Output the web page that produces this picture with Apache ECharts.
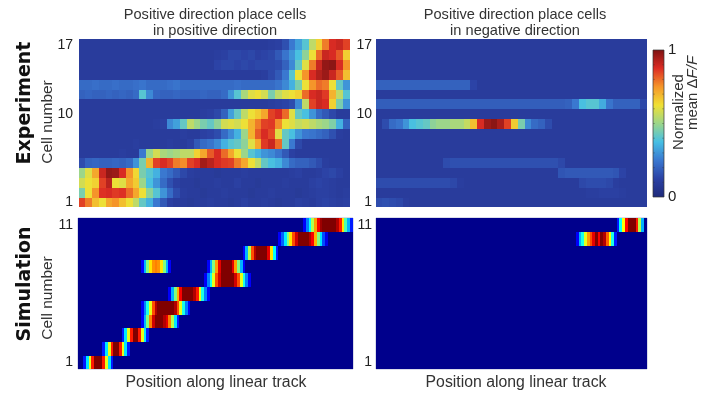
<!DOCTYPE html>
<html>
<head>
<meta charset="utf-8">
<script src="https://cdn.jsdelivr.net/npm/echarts@6/dist/echarts.min.js"></script>
<style>
  html, body { margin: 0; padding: 0; background: #ffffff; }
  #chart { width: 704px; height: 394px; }
</style>
</head>
<body>
<div id="chart"></div>
<script>
// ---- Experiment: mean dF/F per cell (rows 1..17, bottom to top) over 40 position bins, in percent ----
const expPositiveDir = [
  [85,78,68,62,72,75,68,62,55,42,35,25,18,12,10,10,9,10,10,11,10,10,9,10,12,10,10,11,10,9,10,10,12,11,10,12,13,12,11,12],
  [45,62,75,87,88,86,87,80,72,62,48,40,30,22,15,11,10,10,9,10,10,11,10,10,10,9,10,10,11,10,10,10,9,10,11,12,12,11,10,11],
  [58,62,65,85,92,62,60,72,66,50,38,30,22,16,12,10,10,9,10,10,11,10,10,12,10,10,9,10,10,10,11,10,10,10,12,13,12,11,10,10],
  [50,60,72,90,97,96,88,75,64,45,40,35,25,22,18,14,11,10,10,10,9,10,10,10,11,10,10,10,10,10,10,11,12,10,10,11,13,14,12,10],
  [15,20,21,20,20,21,20,22,30,45,70,85,88,85,78,76,85,88,95,92,88,86,85,78,72,62,55,42,38,35,28,22,20,20,18,15,11,10,10,10],
  [10,10,10,10,10,10,11,10,10,25,50,58,52,50,52,55,55,65,72,82,88,80,72,62,50,40,35,30,28,24,18,12,10,10,10,10,10,10,10,10],
  [10,10,10,10,10,10,10,10,11,10,10,10,10,11,10,10,12,18,22,24,28,35,40,42,48,60,72,86,90,80,42,25,14,10,10,10,10,10,10,10],
  [10,10,10,10,10,10,10,10,10,10,10,10,10,10,10,11,10,10,12,13,15,22,28,35,50,70,82,88,84,60,42,38,30,25,24,22,20,16,11,10],
  [10,10,10,10,10,10,10,10,10,10,10,11,12,28,32,42,55,50,45,42,48,58,60,58,62,70,78,85,86,76,62,60,56,58,55,52,50,46,35,20],
  [10,10,10,10,10,10,10,10,10,10,10,10,10,10,10,10,10,10,11,12,14,20,32,42,55,62,66,72,85,88,80,60,42,38,30,22,18,14,10,10],
  [10,10,10,10,10,10,10,10,10,10,10,10,10,10,10,10,10,10,10,10,10,10,10,10,10,10,10,10,11,12,13,15,28,55,85,90,88,65,45,30],
  [20,21,20,20,21,20,21,20,22,40,28,21,20,20,21,20,20,20,21,20,20,22,30,40,52,60,62,58,45,55,60,62,65,80,88,90,86,70,55,40],
  [22,22,23,22,22,23,22,22,23,24,22,22,22,23,24,22,22,22,22,22,22,22,22,23,22,22,22,22,22,24,28,35,45,62,75,80,78,62,42,30],
  [10,10,10,10,10,10,10,10,10,10,10,10,10,10,10,10,10,10,10,10,10,10,10,10,10,10,10,11,14,18,25,40,62,75,88,93,96,90,82,68],
  [10,10,10,10,10,10,10,10,10,10,10,10,10,10,10,10,10,10,10,10,13,14,14,13,14,13,14,14,14,15,20,28,42,60,78,90,97,98,88,75],
  [10,10,10,10,10,10,10,10,10,10,10,10,10,10,10,10,10,10,10,10,11,12,14,14,13,14,12,13,14,18,24,30,38,48,62,80,90,88,82,65],
  [10,10,10,10,10,10,10,10,10,10,10,10,10,10,10,10,10,10,10,10,10,10,10,10,10,10,10,10,11,12,16,25,32,40,55,65,78,88,90,85]
];

const expNegativeDir = [
  [15,16,15,14,11,10,10,10,10,10,10,10,10,10,10,10,10,10,10,10,10,10,10,10,10,10,10,10,10,10,10,10,10,10,10,10,10,10,10,10],
  [10,10,10,10,10,10,10,10,10,10,10,10,10,10,10,10,10,10,10,10,10,10,10,10,10,10,10,10,10,10,10,11,11,12,12,12,11,10,10,10],
  [15,15,15,15,15,15,15,15,15,15,15,14,11,10,10,10,10,10,10,10,10,10,10,10,10,10,10,10,10,10,14,15,15,15,14,11,10,10,10,10],
  [10,10,10,10,10,10,10,10,10,10,10,10,10,10,10,10,10,10,10,10,10,10,10,10,10,10,10,17,18,18,18,18,18,18,18,17,13,10,10,10],
  [10,10,10,10,10,10,10,10,10,10,15,16,16,16,16,16,16,16,16,16,16,16,16,16,16,16,16,14,10,10,10,10,10,10,10,10,10,10,10,10],
  [10,10,10,10,10,10,10,10,10,10,10,10,10,10,10,10,10,10,10,10,10,10,10,10,10,10,10,10,10,10,10,10,10,10,10,10,10,10,10,10],
  [10,10,10,10,10,10,10,10,10,10,10,10,10,10,10,10,10,10,10,10,10,10,10,10,10,10,10,10,10,10,10,10,10,10,10,10,10,10,10,10],
  [10,10,10,10,10,10,10,10,10,10,10,10,10,10,10,10,10,10,10,10,10,10,10,10,10,10,10,10,10,10,10,10,10,10,10,10,10,10,10,10],
  [10,15,22,24,30,38,40,42,48,50,50,52,52,56,68,88,96,98,94,85,66,45,28,22,20,15,10,10,10,10,10,10,10,10,10,10,10,10,10,10],
  [10,10,10,10,10,10,10,10,10,10,10,10,10,10,10,10,10,10,10,10,10,10,10,10,10,10,10,10,10,10,10,10,10,10,10,10,10,10,10,10],
  [19,19,19,19,19,19,19,19,19,19,19,19,19,19,19,19,19,19,19,19,19,19,19,19,19,19,19,19,20,25,38,40,40,34,24,20,20,20,20,14],
  [10,10,10,10,10,10,10,10,10,10,10,10,10,10,10,10,10,10,10,10,10,10,10,10,10,10,10,10,10,10,10,10,10,10,10,10,10,10,10,10],
  [20,20,20,20,20,20,20,20,20,20,20,20,20,20,13,10,10,10,10,10,10,10,10,10,10,10,10,10,10,10,10,10,10,10,10,10,10,10,10,10],
  [10,10,10,10,10,10,10,10,10,10,10,10,10,10,10,10,10,10,10,10,10,10,10,10,10,10,10,10,10,10,10,10,10,10,10,10,10,10,10,10],
  [10,10,10,10,10,10,10,10,10,10,10,10,10,10,10,10,10,10,10,10,10,10,10,10,10,10,10,10,10,10,10,10,10,10,10,10,10,10,10,10],
  [10,10,10,10,10,10,10,10,10,10,10,10,10,10,10,10,10,10,10,10,10,10,10,10,10,10,10,10,10,10,10,10,10,10,10,10,10,10,10,10],
  [10,10,10,10,10,10,10,10,10,10,10,10,10,10,10,10,10,10,10,10,10,10,10,10,10,10,10,10,10,10,10,10,10,10,10,10,10,10,10,10]
];

// ---- Simulation: place fields per cell (rows 1..11), as [first bin, activity in percent...] over 100 bins ----
const simPositiveDir = [
  [[2,  [15,35,60,85,100,100,100,85,60,35,15]]],
  [[9,  [15,35,60,85,100,100,85,60,35,15]]],
  [[16, [15,35,60,85,100,100,85,60,35,15]]],
  [[23, [12,30,50,75,92,100,100,100,95,90,75,55,35,15]]],
  [[23, [12,25,40,60,80,95,100,100,100,100,100,100,95,80,60,40,25,12]]],
  [[33, [12,30,50,70,88,100,100,100,100,95,85,60,40,25,12]]],
  [[46, [12,25,40,60,80,92,100,100,100,100,100,92,80,60,40,25,12]]],
  [[23, [12,30,50,65,73,75,73,65,50,30,12]], [47, [12,30,50,72,90,100,100,100,100,90,72,50,30,12]]],
  [[60, [12,30,55,80,95,100,100,100,100,90,65,38,15]]],
  [[73, [12,22,35,50,65,80,92,100,100,100,100,95,88,70,50,35,20,10]]],
  [[82, [12,25,38,55,72,88,97,100,100,100,100,100,95,85,65,45,30,15]]]
];
const simNegativeDir = [
  [], [], [], [], [], [], [], [], [],
  [[74, [12,30,40,60,72,80,90,100,88,100,95,78,62,40,15]]],
  [[89, [15,38,62,87,100,100,100,85,55,30]]]
];

const expBins = 40;
const simBins = 100;
const expTickLabels = ['1', '10', '17'];
const simTickLabels = ['1', '11'];

const expColors = ['#1f2a7a', '#2b41a4', '#3a78d0', '#46bfe4', '#9cd68a', '#f0e034', '#f5952a', '#dc2c24', '#7c1212'];
const jetColors = ['#00008c', '#0000ff', '#0080ff', '#00ffff', '#80ff80', '#ffff00', '#ff8000', '#ff0000', '#800000'];

// dense rows -> [bin, cell, value]
function denseToCells(rows) {
  const out = [];
  rows.forEach((row, r) => row.forEach((v, c) => out.push([c, r, v / 100])));
  return out;
}
// sparse place fields -> [bin, cell, value] on a zero background
function fieldsToCells(rows, bins) {
  const out = [];
  rows.forEach((fields, r) => {
    const line = new Array(bins).fill(0);
    fields.forEach(([start, vals]) => vals.forEach((v, i) => { line[start + i] = v / 100; }));
    line.forEach((v, c) => out.push([c, r, v]));
  });
  return out;
}

const range = n => Array.from({ length: n }, (_, i) => String(i + 1));
const font = 'Liberation Sans, Arial, sans-serif';

const grids = [
  { left: 79,  top: 40,  width: 271, height: 167 },
  { left: 376, top: 40,  width: 271, height: 167 },
  { left: 78,  top: 218, width: 275, height: 151, show: true, borderColor: '#b4b8d6', borderWidth: 1, backgroundColor: 'transparent' },
  { left: 376, top: 218, width: 271, height: 151, show: true, borderColor: '#b4b8d6', borderWidth: 1, backgroundColor: 'transparent' }
];

const panels = [
  { bins: expBins, cells: 17, ticks: expTickLabels, data: denseToCells(expPositiveDir), margin: 6 },
  { bins: expBins, cells: 17, ticks: expTickLabels, data: denseToCells(expNegativeDir), margin: 4 },
  { bins: simBins, cells: 11, ticks: simTickLabels, data: fieldsToCells(simPositiveDir, simBins), margin: 5 },
  { bins: simBins, cells: 11, ticks: simTickLabels, data: fieldsToCells(simNegativeDir, simBins), margin: 4 }
];

const xAxis = panels.map((p, i) => ({
  type: 'category', gridIndex: i, data: range(p.bins),
  axisLine: { show: false }, axisTick: { show: false }, axisLabel: { show: false }, splitLine: { show: false }
}));
const yAxis = panels.map((p, i) => ({
  type: 'category', gridIndex: i, data: range(p.cells),
  axisLine: { show: false }, axisTick: { show: false }, splitLine: { show: false },
  axisLabel: {
    interval: 0, margin: p.margin, color: '#222', fontSize: 14, fontFamily: font,
    formatter: v => (p.ticks.includes(v) ? v : '')
  }
}));

// heat cells snapped to whole pixels so neighbouring cells meet without seams
function renderCell(params, api) {
  const c = api.coord([api.value(0), api.value(1)]);
  const s = api.size([1, 1]);
  const x0 = Math.floor(c[0] - s[0] / 2), x1 = Math.ceil(c[0] + s[0] / 2);
  const y0 = Math.floor(c[1] - s[1] / 2), y1 = Math.ceil(c[1] + s[1] / 2);
  return {
    type: 'rect',
    shape: { x: x0, y: y0, width: x1 - x0, height: y1 - y0 },
    style: { fill: api.visual('color') }
  };
}
const series = panels.map((p, i) => ({
  type: 'custom', xAxisIndex: i, yAxisIndex: i, data: p.data,
  encode: { x: 0, y: 1 }, renderItem: renderCell, progressive: 0, silent: true
}));

// colour bar
const cbar = { x: 653, y: 50, w: 11, h: 147 };
const gradStops = expColors.map((c, i) => ({ offset: 1 - i / (expColors.length - 1), color: c }));
const cbarTicks = [];
for (let k = 1; k < 10; k++) {
  const ty = cbar.y + cbar.h * (1 - k / 10);
  cbarTicks.push({ type: 'line', shape: { x1: cbar.x, y1: ty, x2: cbar.x + 2, y2: ty }, style: { stroke: '#333', lineWidth: 0.6, opacity: 0.5 } });
  cbarTicks.push({ type: 'line', shape: { x1: cbar.x + cbar.w - 2, y1: ty, x2: cbar.x + cbar.w, y2: ty }, style: { stroke: '#333', lineWidth: 0.6, opacity: 0.5 } });
}

const txt = (x, y, text, extra) => ({
  type: 'text', x, y,
  style: Object.assign({ text, fill: '#333', font: '14.6px ' + font, textAlign: 'center', textVerticalAlign: 'middle' }, extra || {})
});
const vtxt = (x, y, text, extra) => Object.assign(txt(x, y, text, extra), { rotation: Math.PI / 2 });

const graphic = [
  txt(215, 15, 'Positive direction place cells'),
  txt(215, 31, 'in positive direction'),
  txt(515, 15, 'Positive direction place cells'),
  txt(515, 31, 'in negative direction'),
  txt(216, 383, 'Position along linear track', { font: '15.8px ' + font }),
  txt(516, 383, 'Position along linear track', { font: '15.8px ' + font }),
  vtxt(25, 103, 'Experiment', { font: 'bold 19px DejaVu Sans, sans-serif', fill: '#111' }),
  vtxt(25, 284, 'Simulation', { font: 'bold 19px DejaVu Sans, sans-serif', fill: '#111' }),
  vtxt(48, 122, 'Cell number', { font: '15.5px ' + font }),
  vtxt(48, 298, 'Cell number', { font: '15.5px ' + font }),
  {
    type: 'rect', shape: { x: cbar.x, y: cbar.y, width: cbar.w, height: cbar.h },
    style: { fill: { type: 'linear', x: 0, y: 0, x2: 0, y2: 1, colorStops: gradStops }, stroke: '#333', lineWidth: 0.7 }
  },
  ...cbarTicks,
  txt(668, 50, '1', { textAlign: 'left', fill: '#222', font: '15px ' + font }),
  txt(668, 197, '0', { textAlign: 'left', fill: '#222', font: '15px ' + font }),
  vtxt(679, 112, 'Normalized', { font: '15px ' + font }),
  {
    type: 'text', x: 693, y: 93, rotation: Math.PI / 2,
    style: {
      text: '{n|mean Δ}{i|F/F}', textAlign: 'center', textVerticalAlign: 'middle',
      rich: {
        n: { fontSize: 15, fontFamily: font, fill: '#333', color: '#333' },
        i: { fontSize: 15, fontFamily: font, fontStyle: 'italic', fill: '#333', color: '#333' }
      }
    }
  }
];

const chart = echarts.init(document.getElementById('chart'), null, { renderer: 'canvas' });
chart.setOption({
  animation: false,
  backgroundColor: '#ffffff',
  grid: grids,
  xAxis, yAxis,
  visualMap: [
    { show: false, type: 'continuous', min: 0, max: 1, dimension: 2, seriesIndex: [0, 1], inRange: { color: expColors } },
    { show: false, type: 'continuous', min: 0, max: 1, dimension: 2, seriesIndex: [2, 3], inRange: { color: jetColors } }
  ],
  series,
  graphic
});
</script>
</body>
</html>
